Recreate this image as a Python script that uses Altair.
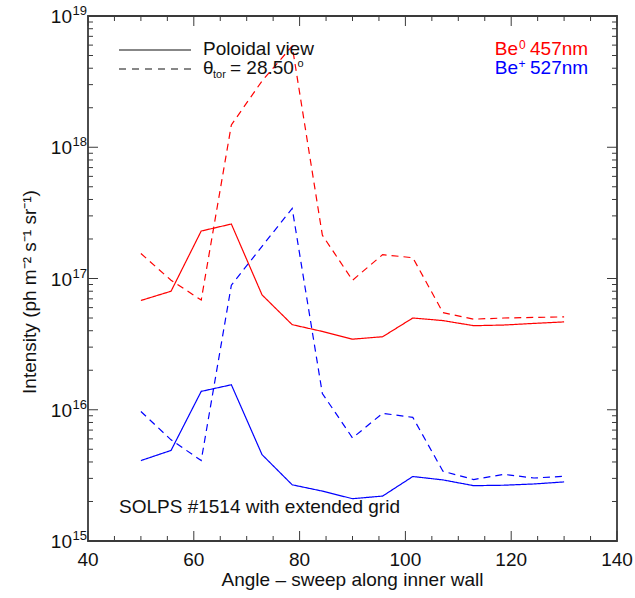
import altair as alt
import pandas as pd

# ---- data ----
angle = [50.0, 55.7, 61.4, 67.1, 72.9, 78.6, 84.3, 90.0, 95.7, 101.4, 107.1, 112.9, 118.6, 124.3, 130.0]
be0_poloidal = [6.8e16, 8.0e16, 2.3e17, 2.6e17, 7.5e16, 4.45e16, 3.95e16, 3.45e16, 3.6e16, 5.0e16, 4.78e16, 4.37e16, 4.42e16, 4.55e16, 4.67e16]
be0_toroidal = [1.55e17, 9.7e16, 6.85e16, 1.48e18, 3.2e18, 5.9e18, 2.14e17, 9.7e16, 1.52e17, 1.44e17, 5.5e16, 4.9e16, 5.0e16, 5.05e16, 5.1e16]
be1_poloidal = [4.1e15, 4.9e15, 1.38e16, 1.55e16, 4.55e15, 2.68e15, 2.4e15, 2.1e15, 2.2e15, 3.1e15, 2.92e15, 2.64e15, 2.66e15, 2.72e15, 2.82e15]
be1_toroidal = [9.7e15, 5.9e15, 4.1e15, 8.9e16, 1.76e17, 3.42e17, 1.33e16, 6.1e15, 9.4e15, 8.75e15, 3.4e15, 2.94e15, 3.22e15, 3.02e15, 3.11e15]

x_major = [40, 60, 80, 100, 120, 140]
x_labels = ["40", "60", "80", "100", "120", "140"]
x_minor = [45, 50, 55, 65, 70, 75, 85, 90, 95, 105, 110, 115, 125, 130, 135]
y_major = [1e15, 1e16, 1e17, 1e18, 1e19]
y_exp = ["15", "16", "17", "18", "19"]
y_minor = [m * 10.0 ** e for e in (15, 16, 17, 18) for m in range(2, 10)]

W, H = 529, 525
FONT = "Liberation Sans"
FRAME = "#3a3a3a"
INK = "#111111"

rows = []
for name, style, vals in [
    ("be0_pol", "solid", be0_poloidal),
    ("be0_tor", "dashed", be0_toroidal),
    ("be1_pol", "solid", be1_poloidal),
    ("be1_tor", "dashed", be1_toroidal),
]:
    for a, v in zip(angle, vals):
        rows.append({"angle": a, "intensity": v, "series": name, "style": style})
df = pd.DataFrame(rows)

xscale = alt.Scale(domain=[40, 140], nice=False, zero=False)
yscale = alt.Scale(type="log", domain=[1e15, 1e19], nice=False)

lines = alt.Chart(df).mark_line(strokeWidth=1.2, clip=True).encode(
    x=alt.X("angle:Q", scale=xscale, axis=None),
    y=alt.Y("intensity:Q", scale=yscale, axis=None),
    color=alt.Color("series:N", legend=None,
                    scale=alt.Scale(domain=["be0_pol", "be0_tor", "be1_pol", "be1_tor"],
                                    range=["#ff0000", "#ff0000", "#0000ff", "#0000ff"])),
    strokeDash=alt.StrokeDash("style:N", legend=None,
                              scale=alt.Scale(domain=["solid", "dashed"], range=[[1, 0], [7, 5]])),
)


def xticks(vals, length):
    d = pd.DataFrame({"t": vals})
    bot = alt.Chart(d).mark_rule(color=FRAME, strokeWidth=1).encode(
        x=alt.X("t:Q", scale=xscale, axis=None), y=alt.value(H), y2=alt.value(H - length))
    top = alt.Chart(d).mark_rule(color=FRAME, strokeWidth=1).encode(
        x=alt.X("t:Q", scale=xscale, axis=None), y=alt.value(0), y2=alt.value(length))
    return [bot, top]


def yticks(vals, length):
    d = pd.DataFrame({"t": vals})
    left = alt.Chart(d).mark_rule(color=FRAME, strokeWidth=1).encode(
        y=alt.Y("t:Q", scale=yscale, axis=None), x=alt.value(0), x2=alt.value(length))
    right = alt.Chart(d).mark_rule(color=FRAME, strokeWidth=1).encode(
        y=alt.Y("t:Q", scale=yscale, axis=None), x=alt.value(W), x2=alt.value(W - length))
    return [left, right]


# y tick labels "10" with superscript exponent
ylab_df = pd.DataFrame({"v": y_major, "base": ["10"] * 5, "exp": y_exp})
ylab_base = alt.Chart(ylab_df).mark_text(align="right", baseline="alphabetic", dy=7,
                                         fontSize=19, font=FONT, color=INK).encode(
    y=alt.Y("v:Q", scale=yscale, axis=None), x=alt.value(-16), text="base:N")
ylab_exp = alt.Chart(ylab_df).mark_text(align="left", baseline="alphabetic", dy=-1,
                                        fontSize=13, font=FONT, color=INK).encode(
    y=alt.Y("v:Q", scale=yscale, axis=None), x=alt.value(-15.5), text="exp:N")

# x tick labels
xlab_df = pd.DataFrame({"t": x_major, "lab": x_labels})
xlab = alt.Chart(xlab_df).mark_text(align="center", baseline="alphabetic",
                                    fontSize=19, font=FONT, color=INK).encode(
    x=alt.X("t:Q", scale=xscale, axis=None), y=alt.value(H + 25), text="lab:N")


def label(txt, x, y, size=19, color=INK, align="left", angle=None, baseline="alphabetic"):
    kw = dict(align=align, baseline=baseline, fontSize=size, font=FONT, color=color)
    if angle is not None:
        kw["angle"] = angle
    return alt.Chart(pd.DataFrame({"t": [txt]})).mark_text(**kw).encode(
        text="t:N", x=alt.value(x), y=alt.value(y))


def hline(x1, x2, y, dash=None):
    kw = {"color": INK, "strokeWidth": 1.2}
    if dash:
        kw["strokeDash"] = dash
    return alt.Chart(pd.DataFrame({"t": [0]})).mark_rule(**kw).encode(
        x=alt.value(x1), x2=alt.value(x2), y=alt.value(y))


annotations = [
    hline(31, 103, 34),
    hline(31, 103, 53, dash=[7, 6]),
    label("Poloidal view", 115, 39),
    label("\u03b8", 115, 58.3),
    label("tor", 125, 61.5, size=11),
    label("= 28.50", 142, 58.3),
    label("o", 209.5, 51, size=11),
    label("Be", 406.8, 39, color="#ff0000"),
    label("0", 431, 32.5, size=12, color="#ff0000"),
    label("457nm", 442, 39, color="#ff0000"),
    label("Be", 406.8, 58, color="#0000ff"),
    label("+", 430.5, 51.5, size=12, color="#0000ff"),
    label("527nm", 442, 58, color="#0000ff"),
    label("SOLPS #1514 with extended grid", 31, 497),
    label("Angle \u2013 sweep along inner wall", W / 2, H + 45, align="center"),
    label("Intensity (ph m\u207b\u00b2 s\u207b\u00b9 sr\u207b\u00b9)", -58, 276,
          align="center", angle=270, baseline="middle"),
]

layers = [lines] + xticks(x_major, 10) + xticks(x_minor, 5) + yticks(y_major, 10) + yticks(y_minor, 5) \
    + [ylab_base, ylab_exp, xlab] + annotations

chart = alt.layer(*layers).properties(
    width=W, height=H,
    padding={"left": 88, "top": 16, "right": 18, "bottom": 57},
    autosize=alt.AutoSizeParams(type="none"),
    background="white",
).configure(
    font=FONT,
    view=alt.ViewConfig(stroke=FRAME, strokeWidth=1.8),
)

chart.save("out.html", embed_options={"renderer": "svg", "actions": False})
